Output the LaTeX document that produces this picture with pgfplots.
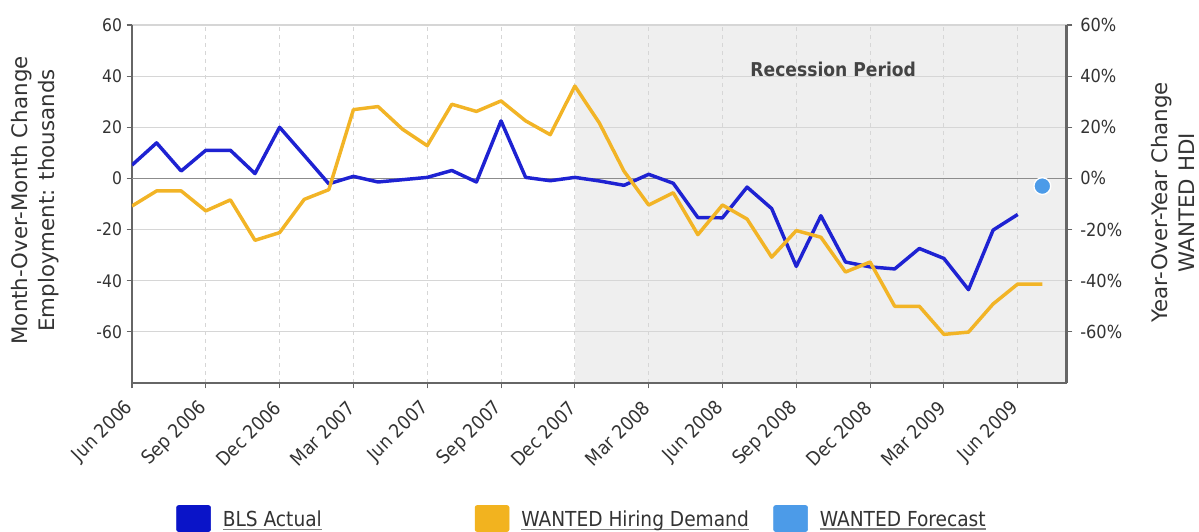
\documentclass[border=0pt]{standalone}
\usepackage{fontspec}
\setmainfont{DejaVu Sans Condensed}
\newfontfamily\labelfont{DejaVu Sans}
\usepackage{pgfplots}
\usepackage{pgfplotstable}
\pgfplotsset{compat=1.18}

\definecolor{blsblue}{HTML}{1E22D2}
\definecolor{blsleg}{HTML}{0A14C8}
\definecolor{wantedorange}{HTML}{F2B426}
\definecolor{orleg}{HTML}{F2B31F}
\definecolor{fcblue}{HTML}{4C9BE8}
\definecolor{recbg}{HTML}{EFEFEF}
\definecolor{axisgray}{HTML}{666666}
\definecolor{gridgray}{HTML}{D6D6D6}
\definecolor{zerogray}{HTML}{8C8C8C}
\definecolor{txt}{HTML}{333333}
\definecolor{rectxt}{HTML}{444444}

\newcommand\ul[1]{\setbox0\hbox{#1}\rlap{\color{gray}\rule[-2.6pt]{\wd0}{0.8pt}}\box0}

\pgfplotstableread{
m v
0 5.2
1 13.9
2 2.9
3 11
4 11
5 1.9
6 20
7 9
8 -2.1
9 0.8
10 -1.4
11 -0.5
12 0.4
13 3.1
14 -1.4
15 22.5
16 0.4
17 -0.9
18 0.4
19 -1
20 -2.7
21 1.6
22 -1.9
23 -15.3
24 -15.4
25 -3.4
26 -11.8
27 -34.4
28 -14.6
29 -32.7
30 -34.6
31 -35.4
32 -27.4
33 -31.3
34 -43.5
35 -20.2
36 -14.1
}\blsdata

\pgfplotstableread{
m v
0 -10.8
1 -4.9
2 -4.9
3 -12.7
4 -8.4
5 -24.2
6 -21.2
7 -8.2
8 -4.4
9 26.9
10 28.1
11 19.2
12 12.8
13 29
14 26.2
15 30.3
16 22.5
17 17.1
18 36.1
19 21.6
20 2.8
21 -10.4
22 -5.6
23 -22
24 -10.4
25 -15.9
26 -30.8
27 -20.4
28 -23
29 -36.6
30 -32.7
31 -50
32 -50
33 -61
34 -60.1
35 -49.1
36 -41.3
37 -41.3
}\hirdata

\pgfplotstableread{
m v
37 -3
}\fcdata

\begin{document}
\begin{tikzpicture}
\path (-99pt,-111pt) rectangle (800.25pt,287.25pt);
\begin{axis}[
  set layers,
  scale only axis, width=701.25pt, height=268.5pt,
  at={(0,0)}, anchor=south west,
  xmin=0, xmax=38, ymin=-80, ymax=60,
  axis x line*=bottom, axis y line*=left,
  axis line style={-, draw=axisgray, line width=2.2pt},
  tick align=outside, major tick length=4pt,
  tick style={draw=axisgray, line width=0.8pt},
  xtick={0,3,...,36},
  xticklabels={Jun 2006,Sep 2006,Dec 2006,Mar 2007,Jun 2007,Sep 2007,Dec 2007,Mar 2008,Jun 2008,Sep 2008,Dec 2008,Mar 2009,Jun 2009},
  xticklabel style={rotate=45, anchor=east, font=\fontsize{14.3}{14.3}\selectfont, text=txt, inner sep=1pt, yshift=-7.6pt, xshift=-8.6pt},
  ytick={-60,-40,-20,0,20,40,60},
  yticklabels={-60,-40,-20,0,20,40,60},
  yticklabel style={font=\fontsize{13}{13}\selectfont, text=txt},
  xmajorgrids, ymajorgrids,
  x grid style={draw=gridgray, dashed, line width=0.8pt},
  y grid style={draw=gridgray, line width=0.9pt},
  ylabel={Month-Over-Month Change\\Employment: thousands},
  ylabel style={at={(axis description cs:-0.1037,0.51)}, anchor=center, align=center, text=txt, font=\labelfont\fontsize{16}{20.25}\selectfont},
  legend columns=3,
  legend style={at={(axis description cs:0.0471,-0.3408)}, anchor=north west, draw=none, fill=none, inner sep=0pt,
    nodes={inner sep=0pt, text=txt, font=\fontsize{15.5}{15.5}\selectfont},
    /tikz/every odd column/.append style={column sep=9pt},
    /tikz/every even column/.append style={column sep=0pt}},
]
\begin{pgfonlayer}{axis background}
\fill[recbg] (axis cs:18,-80) rectangle (axis cs:38,60);
\end{pgfonlayer}
\draw[zerogray, line width=1.1pt] (axis cs:0,0) -- (axis cs:38,0);
\node[font=\bfseries\fontsize{14.3}{14.3}\selectfont, text=rectxt] at (axis cs:28.5,42.6) {Recession Period};

\addplot[blsblue, line width=2.6pt, line join=round, forget plot] table[x=m,y=v] {\blsdata};
\addplot[wantedorange, line width=2.6pt, line join=round, forget plot] table[x=m,y=v] {\hirdata};
\addplot[only marks, mark=*, mark size=6.3pt, color=fcblue, mark options={draw=white, line width=1pt}, forget plot] table[x=m,y=v] {\fcdata};

\addlegendimage{legend image code/.code={\fill[blsleg, rounded corners=1.5pt] (0pt,-9pt) rectangle (25.5pt,10.5pt);}}
\addlegendentry{\makebox[189pt][l]{\ul{BLS Actual}}}
\addlegendimage{legend image code/.code={\fill[orleg, rounded corners=1.5pt] (0pt,-9pt) rectangle (25.5pt,10.5pt);}}
\addlegendentry{\makebox[189pt][l]{\ul{WANTED Hiring Demand}}}
\addlegendimage{legend image code/.code={\fill[fcblue, rounded corners=1.5pt] (0pt,-9pt) rectangle (25.5pt,10.5pt);}}
\addlegendentry{\makebox[189pt][l]{\ul{WANTED Forecast}}}
\end{axis}

\begin{axis}[
  scale only axis, width=701.25pt, height=268.5pt,
  at={(0,0)}, anchor=south west,
  xmin=0, xmax=38, ymin=-80, ymax=60,
  axis x line=none, axis y line*=right,
  axis line style={-, draw=axisgray, line width=2.2pt},
  tick align=outside, major tick length=4pt,
  tick style={draw=axisgray, line width=0.8pt},
  ytick={-60,-40,-20,0,20,40,60},
  yticklabels={-60\%,-40\%,-20\%,0\%,20\%,40\%,60\%},
  yticklabel style={font=\fontsize{13.5}{13.5}\selectfont, text=txt, xshift=2.5pt},
  ylabel={Year-Over-Year Change\\WANTED HDI},
  ylabel style={at={(axis description cs:1.1134,0.504)}, anchor=center, align=center, text=txt, font=\labelfont\fontsize{16}{20.25}\selectfont},
]
\end{axis}
\end{tikzpicture}
\end{document}
